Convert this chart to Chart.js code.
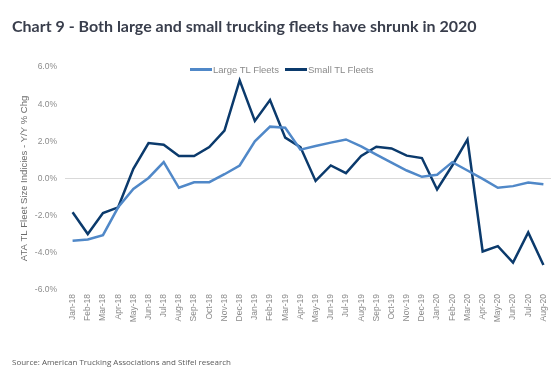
<!DOCTYPE html>
<html>
<head>
<meta charset="utf-8">
<script src="https://cdn.jsdelivr.net/npm/chart.js@4.4.1/dist/chart.umd.min.js"></script>
<style>
    body { margin: 0; background: #fff; }
    #wrap { position: relative; width: 560px; height: 380px; }
    #chart { position: absolute; left: 0; top: 0; }
    #title { position: absolute; left: 12px; top: 16px; font: bold 16px Lato, "Open Sans", sans-serif; color: #393e4c; white-space: nowrap; }
    #source { position: absolute; left: 12px; top: 356px; font: 8px "Open Sans", sans-serif; color: #5a5a5a; white-space: nowrap; }
    #legend { position: absolute; top: 64px; left: 190px; font: 9.5px "Liberation Sans", sans-serif; color: #8a8a8a; display: flex; gap: 6px; white-space: nowrap; }
    #legend span.item { display: flex; align-items: center; }
    #legend span.swatch { display: inline-block; width: 22px; height: 2.5px; margin-right: 1px; }
</style>
</head>
<body>
<div id="wrap">
    <canvas id="chart" width="560" height="380"></canvas>
    <div id="title">Chart 9 - Both large and small trucking fleets have shrunk in 2020</div>
    <div id="legend"></div>
    <div id="source">Source: American Trucking Associations and Stifel research</div>
</div>
<script>
// Months Jan-18 .. Aug-20
const months = ['Jan-18', 'Feb-18', 'Mar-18', 'Apr-18', 'May-18', 'Jun-18', 'Jul-18', 'Aug-18', 'Sep-18', 'Oct-18', 'Nov-18', 'Dec-18',
    'Jan-19', 'Feb-19', 'Mar-19', 'Apr-19', 'May-19', 'Jun-19', 'Jul-19', 'Aug-19', 'Sep-19', 'Oct-19', 'Nov-19', 'Dec-19',
    'Jan-20', 'Feb-20', 'Mar-20', 'Apr-20', 'May-20', 'Jun-20', 'Jul-20', 'Aug-20'];

// Y/Y % change
const largeFleets = [-3.35, -3.28, -3.05, -1.55, -0.56, 0.03, 0.88, -0.50, -0.20, -0.20, 0.23, 0.70,
    2.00, 2.79, 2.73, 1.55, 1.75, 1.93, 2.10, 1.73, 1.28, 0.85, 0.43, 0.09,
    0.20, 0.88, 0.43, -0.02, -0.50, -0.41, -0.22, -0.31];
const smallFleets = [-1.82, -2.99, -1.86, -1.55, 0.52, 1.91, 1.82, 1.21, 1.21, 1.69, 2.58, 5.28,
    3.10, 4.22, 2.20, 1.69, -0.13, 0.70, 0.29, 1.21, 1.71, 1.62, 1.23, 1.10,
    -0.59, 0.70, 2.10, -3.93, -3.64, -4.52, -2.90, -4.65];

const yTicks = [-6, -4, -2, 0, 2, 4, 6];

const seriesNames = ['Large TL Fleets', 'Small TL Fleets'];
const seriesColors = ['#5088c8', '#0b3a6c'];

// Build the little legend above the plot
const legend = document.getElementById('legend');
seriesNames.forEach((name, i) => {
    legend.innerHTML += `<span class="item"><span class="swatch" style="background:${seriesColors[i]}"></span>${name}</span>`;
});

const tickFont = { family: '"Liberation Sans", sans-serif', size: 8.5 };

new Chart(document.getElementById('chart').getContext('2d'), {
    type: 'line',
    data: {
        labels: months,
        datasets: [
            {
                label: seriesNames[0],
                data: largeFleets,
                borderColor: seriesColors[0],
                borderWidth: 2.5,
                pointRadius: 0,
                tension: 0
            },
            {
                label: seriesNames[1],
                data: smallFleets,
                borderColor: seriesColors[1],
                borderWidth: 2.5,
                pointRadius: 0,
                tension: 0
            }
        ]
    },
    options: {
        responsive: false,
        animation: false,
        layout: { padding: { top: 67, right: 9, left: 19, bottom: 0 } },
        plugins: {
            legend: { display: false },
            tooltip: { enabled: false }
        },
        scales: {
            x: {
                offset: true,
                grid: { display: false, drawTicks: false },
                border: { display: false },
                ticks: {
                    font: tickFont,
                    color: '#8a8a8a',
                    autoSkip: false,
                    minRotation: 90,
                    maxRotation: 90,
                    padding: 4
                },
                afterFit: (scale) => { scale.height = 90; }
            },
            y: {
                min: -6,
                max: 6,
                afterBuildTicks: (scale) => { scale.ticks = yTicks.map(v => ({ value: v })); },
                grid: {
                    drawTicks: false,
                    color: (ctx) => ctx.tick && ctx.tick.value === 0 ? '#d9d9d9' : 'transparent'
                },
                border: { display: false },
                ticks: {
                    font: tickFont,
                    color: '#8c8c8c',
                    padding: 8,
                    callback: (v) => v.toFixed(1) + '%'
                },
                title: {
                    display: true,
                    text: 'ATA TL Fleet Size Indicies - Y/Y % Chg',
                    font: { family: '"Liberation Sans", sans-serif', size: 9.5 },
                    color: '#6b6b6b',
                    padding: { top: 0, bottom: 3 }
                },
                afterFit: (scale) => { scale.width = 46; }
            }
        }
    }
});
</script>
</body>
</html>
